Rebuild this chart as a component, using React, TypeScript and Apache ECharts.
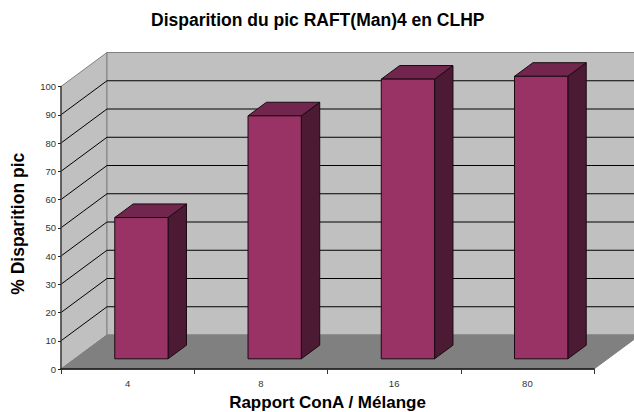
import React, { useEffect, useRef } from "react";
import * as echarts from "echarts";

const categories = ["4", "8", "16", "80"];
const values = [50, 86, 99, 100];
const yTicks = [0, 10, 20, 30, 40, 50, 60, 70, 80, 90, 100];
const titleText = "Disparition du pic RAFT(Man)4 en CLHP";
const xName = "Rapport ConA / Mélange";
const yName = "% Disparition pic";

const DEPTH_X = 46;
const DEPTH_Y = 34;
const FONT = "Liberation Sans";

export default function App() {
  const ref = useRef<HTMLDivElement>(null);
  useEffect(() => {
    const chart = echarts.init(ref.current!, undefined, { renderer: "svg" });
    chart.setOption({
      animation: false,
      backgroundColor: "#ffffff",
      title: {
        text: titleText,
        left: 146,
        top: 6,
        textStyle: { fontFamily: FONT, fontSize: 17.5, fontWeight: "bold", color: "#000" },
      },
      grid: { left: 61, right: 40, top: 86.5, bottom: 43, outerBoundsMode: "none" },
      xAxis: {
        type: "category",
        data: categories,
        boundaryGap: true,
        name: xName,
        nameLocation: "middle",
        nameGap: 25,
        nameTextStyle: { fontFamily: FONT, fontSize: 17, fontWeight: "bold", color: "#000" },
        axisLine: { lineStyle: { color: "#111", width: 1.5 } },
        axisTick: { show: true, alignWithLabel: false, length: 5, lineStyle: { color: "#333" } },
        axisLabel: { fontFamily: FONT, fontSize: 9.5, color: "#333", margin: 9 },
        splitLine: { show: false },
        z: 5,
      },
      yAxis: {
        type: "value",
        min: 0,
        max: 100,
        interval: 10,
        name: yName,
        nameLocation: "middle",
        nameGap: 34,
        nameTextStyle: { fontFamily: FONT, fontSize: 17.5, fontWeight: "bold", color: "#000", padding: [0, 0, 0, 8] },
        axisLine: { show: true, lineStyle: { color: "#444", width: 1.5 } },
        axisTick: { show: true, length: 3, lineStyle: { color: "#222" } },
        axisLabel: { fontFamily: FONT, fontSize: 9.5, color: "#333", margin: 5 },
        splitLine: { show: false },
        z: 5,
      },
      series: [
        {
          type: "custom",
          name: "walls",
          coordinateSystem: "cartesian2d",
          clip: false,
          silent: true,
          z: 1,
          data: [[0, 0]],
          renderItem: (params: any, api: any) => {
            const g = params.coordSys;
            const l = g.x, r = g.x + g.width;
            const y0 = api.coord([0, 0])[1];
            const yMax = api.coord([0, 100])[1];
            const children: any[] = [
              { type: "polygon", shape: { points: [[l, yMax], [l + DEPTH_X, yMax - DEPTH_Y], [l + DEPTH_X, y0 - DEPTH_Y], [l, y0]] },
                style: { fill: "#c0c0c0", stroke: "#808080", lineWidth: 1 } },
              { type: "rect", shape: { x: l + DEPTH_X, y: yMax - DEPTH_Y, width: r - l, height: y0 - yMax },
                style: { fill: "#c0c0c0", stroke: "#808080", lineWidth: 1 } },
              { type: "polygon", shape: { points: [[l, y0], [l + DEPTH_X, y0 - DEPTH_Y], [r + DEPTH_X, y0 - DEPTH_Y], [r, y0]] },
                style: { fill: "#808080", stroke: "#808080", lineWidth: 1 } },
            ];
            yTicks.slice(1, -1).forEach((t) => {
              const y = api.coord([0, t])[1];
              children.push({
                type: "polyline",
                shape: { points: [[l, y], [l + DEPTH_X, y - DEPTH_Y], [r + DEPTH_X, y - DEPTH_Y]] },
                style: { fill: "none", stroke: "#000", lineWidth: 1 },
              });
            });
            return { type: "group", children };
          },
        },
        {
          type: "custom",
          name: "bars",
          coordinateSystem: "cartesian2d",
          clip: false,
          z: 2,
          encode: { x: 0, y: 1 },
          data: values.map((v, i) => [i, v]),
          renderItem: (_params: any, api: any) => {
            const idx = api.value(0);
            const val = api.value(1);
            const c = api.coord([idx, val]);
            const base = api.coord([idx, 0]);
            const cw = api.size([1, 0])[0];
            const w = cw * 0.4;
            const x0 = c[0] - w / 2 + DEPTH_X * 0.3;
            const x1 = x0 + w;
            const yt = c[1] - DEPTH_Y * 0.3;
            const yb = base[1] - DEPTH_Y * 0.3;
            const dx = DEPTH_X * 0.4;
            const dy = DEPTH_Y * 0.4;
            const stroke = { stroke: "#1a0a14", lineWidth: 1 };
            return {
              type: "group",
              children: [
                { type: "polygon", shape: { points: [[x1, yt], [x1 + dx, yt - dy], [x1 + dx, yb - dy], [x1, yb]] },
                  style: { fill: "#4c1a33", ...stroke } },
                { type: "polygon", shape: { points: [[x0, yt], [x0 + dx, yt - dy], [x1 + dx, yt - dy], [x1, yt]] },
                  style: { fill: "#73264d", ...stroke } },
                { type: "rect", shape: { x: x0, y: yt, width: w, height: yb - yt },
                  style: { fill: "#993366", ...stroke } },
              ],
            };
          },
        },
      ],
    });
    return () => chart.dispose();
  }, []);
  return <div ref={ref} style={{ width: 634, height: 412, position: "fixed", left: 0, top: 0 }} />;
}
